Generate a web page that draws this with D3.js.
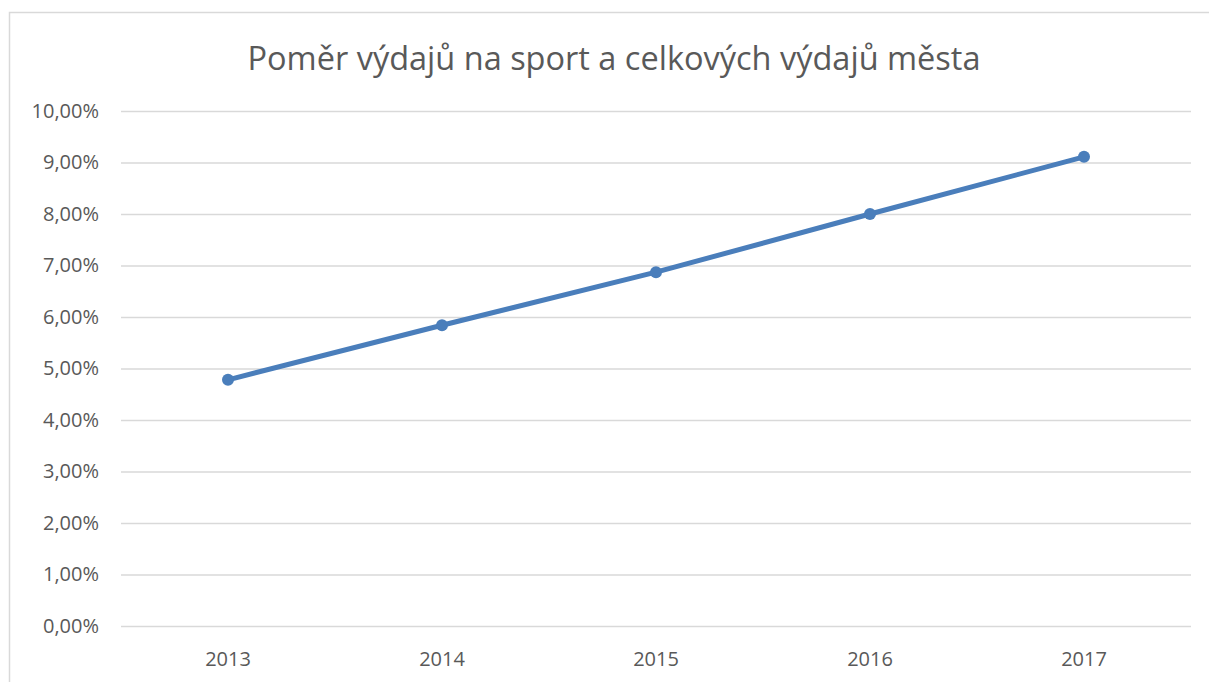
<!DOCTYPE html>
<html><head><meta charset="utf-8">
<script src="https://cdn.jsdelivr.net/npm/d3@7"></script>
<style>body{margin:0;background:#fff;}svg{display:block;}</style>
</head><body>
<script>
const categories = ["2013","2014","2015","2016","2017"];
const values = [0.0478, 0.0584, 0.0687, 0.0800, 0.0911];
const yTicks = [0,0.01,0.02,0.03,0.04,0.05,0.06,0.07,0.08,0.09,0.10];
const title = "Poměr výdajů na sport a celkových výdajů města";

const W=1209,H=682;
const svg=d3.select("body").append("svg").attr("width",W).attr("height",H);
svg.append("rect").attr("x",9.5).attr("y",12.5).attr("width",1220).attr("height",700)
  .attr("fill","#fff").attr("stroke","#d9d9d9").attr("stroke-width",1.5);

const x=d3.scaleBand().domain(categories).range([121,1191]);
const y=d3.scaleLinear().domain([0,0.10]).range([626,111]);
const font="'Open Sans', 'Liberation Sans', sans-serif";

svg.append("text").attr("x",614).attr("y",70).attr("text-anchor","middle")
  .attr("font-family",font).attr("font-size",32.5).attr("fill","#595959").text(title);

const fmt=v=>(v*100).toFixed(2).replace(".",",")+"%";
const yAxis=d3.axisLeft(y).tickValues(yTicks).tickFormat(fmt).tickSize(-(1191-121)).tickPadding(22);
const gy=svg.append("g").attr("transform","translate(121,0)").call(yAxis);
gy.select(".domain").remove();
gy.selectAll(".tick line").attr("stroke","#d9d9d9").attr("stroke-width",1.3);
gy.selectAll(".tick text").attr("font-family",font).attr("font-size",20).attr("fill","#595959");

const xAxis=d3.axisBottom(x).tickSize(0).tickPadding(26);
const gx=svg.append("g").attr("transform","translate(0,626)").call(xAxis);
gx.select(".domain").remove();
gx.selectAll(".tick text").attr("font-family",font).attr("font-size",20).attr("fill","#595959");

const line=d3.line().x((d,i)=>x(categories[i])+x.bandwidth()/2).y(d=>y(d));
svg.append("path").datum(values).attr("d",line).attr("fill","none")
  .attr("stroke","#4a7ebb").attr("stroke-width",5).attr("stroke-linejoin","round");
svg.selectAll("circle.pt").data(values).join("circle").attr("class","pt")
  .attr("cx",(d,i)=>x(categories[i])+x.bandwidth()/2).attr("cy",d=>y(d)).attr("r",6)
  .attr("fill","#4a7ebb");
</script>
</body></html>
